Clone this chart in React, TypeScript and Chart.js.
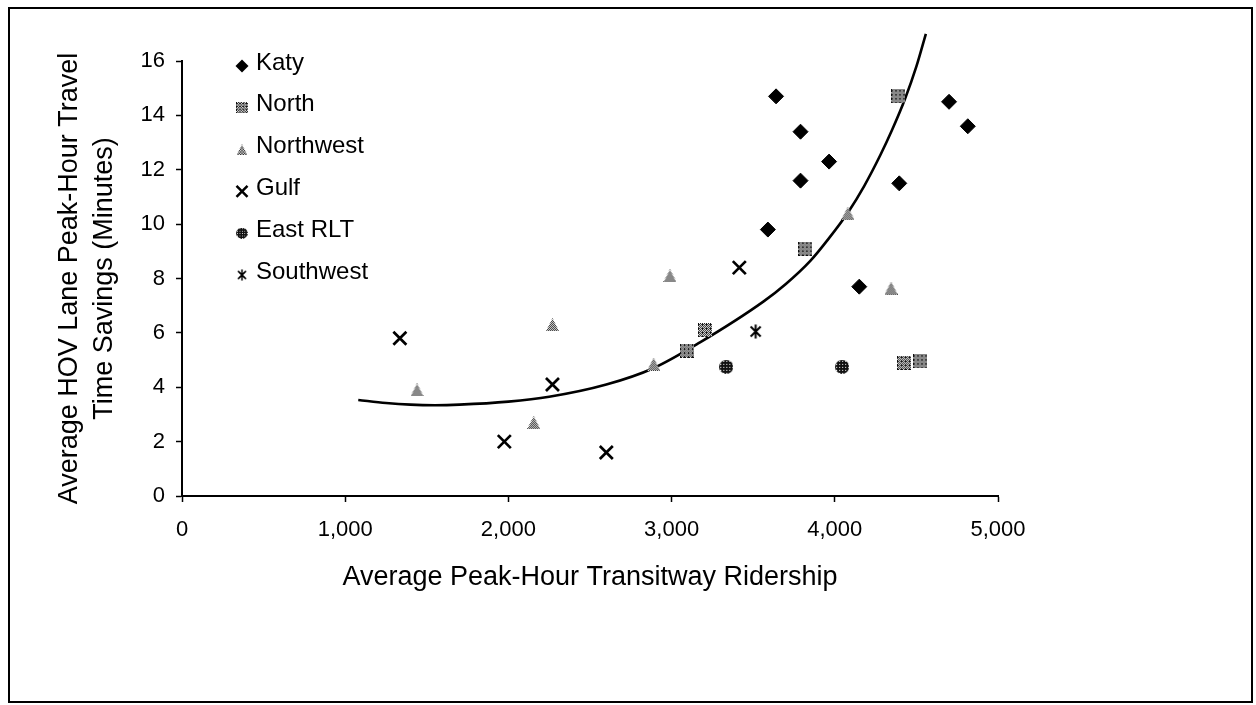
import React, { useEffect, useRef } from 'react';
import { Chart, registerables } from 'chart.js';

Chart.register(...registerables);

// ---- data ----
const seriesNames = ['Katy', 'North', 'Northwest', 'Gulf', 'East RLT', 'Southwest'];

const katyX = [3640, 3790, 3965, 3790, 3590, 4395, 4700, 4815, 4150];
const katyY = [14.7, 13.4, 12.3, 11.6, 9.8, 11.5, 14.5, 13.6, 7.7];

const northX = [4390, 3820, 3205, 3095, 4425, 4525];
const northY = [14.7, 9.1, 6.1, 5.35, 4.9, 4.95];

const northwestX = [4080, 2990, 4345, 2270, 1440, 2155, 2890];
const northwestY = [10.4, 8.1, 7.65, 6.3, 3.9, 2.7, 4.85];

const gulfX = [1335, 1975, 2270, 2600, 3415];
const gulfY = [5.8, 2.0, 4.1, 1.6, 8.4];

const eastX = [3335, 4045];
const eastY = [4.75, 4.75];

const southwestX = [3515];
const southwestY = [6.05];

// trendline
const trendX = [1080, 1250, 1400, 1550, 1700, 2000, 2250, 2600, 2888, 3174, 3562, 3700, 3850, 3960, 4082, 4180, 4280, 4350, 4430, 4500, 4558];
const trendY = [3.53, 3.42, 3.36, 3.34, 3.36, 3.47, 3.65, 4.1, 4.7, 5.65, 7.15, 7.8, 8.65, 9.45, 10.44, 11.4, 12.55, 13.45, 14.6, 15.8, 17.0];

const xTicks = [0, 1000, 2000, 3000, 4000, 5000];
const yTicks = [0, 2, 4, 6, 8, 10, 12, 14, 16];

const xTitle = 'Average Peak-Hour Transitway Ridership';
const yTitle = ['Average HOV Lane Peak-Hour Travel', 'Time Savings (Minutes)'];

const FONT = "'Liberation Sans', Arial, Helvetica, sans-serif";

function zip(xs: number[], ys: number[]) {
  return xs.map((x, i) => ({ x, y: ys[i] }));
}

function patternMarker(shape: 'square' | 'triangle' | 'circle', size: number, dark: (x: number, y: number) => boolean) {
  const c = document.createElement('canvas');
  c.width = size;
  c.height = size;
  const ctx = c.getContext('2d')!;
  ctx.beginPath();
  if (shape === 'square') {
    ctx.rect(0, 0, size, size);
  } else if (shape === 'triangle') {
    ctx.moveTo(size / 2, 0);
    ctx.lineTo(size, size);
    ctx.lineTo(0, size);
    ctx.closePath();
  } else {
    ctx.arc(size / 2, size / 2, size / 2, 0, Math.PI * 2);
  }
  ctx.clip();
  ctx.fillStyle = '#ffffff';
  ctx.fillRect(0, 0, size, size);
  ctx.fillStyle = '#111111';
  for (let y = 0; y < size; y++) {
    for (let x = 0; x < size; x++) {
      if (dark(x, y)) ctx.fillRect(x, y, 1, 1);
    }
  }
  return c;
}

function starMarker(size: number) {
  const c = document.createElement('canvas');
  c.width = size;
  c.height = size;
  const ctx = c.getContext('2d')!;
  ctx.strokeStyle = '#000';
  ctx.lineWidth = 2;
  ctx.lineCap = 'butt';
  const m = size / 2;
  ctx.beginPath();
  ctx.moveTo(2.5, 2.5);
  ctx.lineTo(size - 2.5, size - 2.5);
  ctx.moveTo(size - 2.5, 2.5);
  ctx.lineTo(2.5, size - 2.5);
  ctx.moveTo(m, 0.5);
  ctx.lineTo(m, size - 0.5);
  ctx.stroke();
  return c;
}

function drawLegendMarker(ctx: CanvasRenderingContext2D, style: any, x: number, y: number) {
  ctx.save();
  if (typeof style !== 'string') {
    const w = style.width * 0.8;
    const h = style.height * 0.8;
    ctx.drawImage(style, x - w / 2, y - h / 2, w, h);
  } else if (style === 'rectRot') {
    const r = 6.5;
    ctx.fillStyle = '#000';
    ctx.beginPath();
    ctx.moveTo(x - r, y);
    ctx.lineTo(x, y - r);
    ctx.lineTo(x + r, y);
    ctx.lineTo(x, y + r);
    ctx.closePath();
    ctx.fill();
  } else if (style === 'crossRot') {
    const r = 5.5;
    ctx.strokeStyle = '#000';
    ctx.lineWidth = 2.5;
    ctx.beginPath();
    ctx.moveTo(x - r, y - r);
    ctx.lineTo(x + r, y + r);
    ctx.moveTo(x + r, y - r);
    ctx.lineTo(x - r, y + r);
    ctx.stroke();
  }
  ctx.restore();
}

const LEGEND_MARK_X = 242;
const LEGEND_TEXT_X = 256;
const LEGEND_TOP = 63;
const LEGEND_STEP = 41.8;

const insideLegend = {
  id: 'insideLegend',
  afterDraw(chart: any) {
    const ctx = chart.ctx as CanvasRenderingContext2D;
    const items = chart.data.datasets.filter((d: any) => !d.isTrend);
    ctx.save();
    ctx.font = `24px ${FONT}`;
    ctx.fillStyle = '#000';
    ctx.textBaseline = 'middle';
    ctx.textAlign = 'left';
    items.forEach((ds: any, i: number) => {
      const y = LEGEND_TOP + i * LEGEND_STEP;
      drawLegendMarker(ctx, ds.pointStyle, LEGEND_MARK_X, y + 3);
      ctx.fillText(ds.label, LEGEND_TEXT_X, y);
    });
    ctx.restore();
  },
};

export default function App() {
  const ref = useRef<HTMLCanvasElement>(null);

  useEffect(() => {
    const canvas = ref.current;
    if (!canvas) return;

    const northImg = patternMarker('square', 14, (x, y) => (x + y) % 2 === 0 || (x % 4 === 0 && y % 4 === 1));
    const northwestImg = patternMarker('triangle', 13, (x, y) => (x + y) % 2 === 0);
    const eastImg = patternMarker('circle', 14, (x, y) => !(x % 3 === 1 && y % 3 === 1));
    const starImg = starMarker(15);

    const chart = new Chart(canvas, {
      type: 'scatter',
      data: {
        datasets: [
          {
            label: seriesNames[0],
            data: zip(katyX, katyY),
            pointStyle: 'rectRot',
            pointRadius: 7.5,
            backgroundColor: '#000',
            borderColor: '#000',
            borderWidth: 1,
          },
          {
            label: seriesNames[1],
            data: zip(northX, northY),
            pointStyle: northImg,
            pointRadius: 7,
          },
          {
            label: seriesNames[2],
            data: zip(northwestX, northwestY),
            pointStyle: northwestImg,
            pointRadius: 7,
          },
          {
            label: seriesNames[3],
            data: zip(gulfX, gulfY),
            pointStyle: 'crossRot',
            pointRadius: 9.2,
            borderColor: '#000',
            backgroundColor: '#000',
            borderWidth: 2.7,
          },
          {
            label: seriesNames[4],
            data: zip(eastX, eastY),
            pointStyle: eastImg,
            pointRadius: 7,
          },
          {
            label: seriesNames[5],
            data: zip(southwestX, southwestY),
            pointStyle: starImg,
            pointRadius: 7,
          },
          {
            type: 'line',
            isTrend: true,
            label: 'Trend',
            data: zip(trendX, trendY),
            showLine: true,
            borderColor: '#000',
            borderWidth: 2.6,
            pointRadius: 0,
            cubicInterpolationMode: 'monotone',
            fill: false,
            clip: false,
          } as any,
        ],
      },
      options: {
        responsive: false,
        animation: false,
        devicePixelRatio: 1,
        layout: { padding: { left: 38, top: 61, right: 258, bottom: 111 } },
        plugins: {
          legend: { display: false },
          tooltip: { enabled: false },
        },
        scales: {
          x: {
            type: 'linear',
            min: 0,
            max: 5000,
            afterBuildTicks: (s: any) => {
              s.ticks = xTicks.map((v) => ({ value: v }));
            },
            afterFit: (s: any) => {
              s.height = 98;
            },
            ticks: {
              color: '#000',
              font: { family: FONT, size: 22 },
              padding: 15,
              maxRotation: 0,
              autoSkip: false,
              callback: (v: any) => Number(v).toLocaleString('en-US'),
            },
            grid: {
              drawOnChartArea: false,
              drawTicks: true,
              tickLength: 6,
              tickColor: '#000',
              tickWidth: 1.5,
            },
            border: { display: true, color: '#000', width: 2 },
            title: {
              display: true,
              text: xTitle,
              color: '#000',
              font: { family: FONT, size: 27 },
              padding: { top: 0, bottom: 0 },
            },
          },
          y: {
            type: 'linear',
            min: 0,
            max: 16,
            afterBuildTicks: (s: any) => {
              s.ticks = yTicks.map((v) => ({ value: v }));
            },
            afterFit: (s: any) => {
              s.width = 144;
            },
            ticks: {
              color: '#000',
              font: { family: FONT, size: 22 },
              padding: 11,
              autoSkip: false,
            },
            grid: {
              drawOnChartArea: false,
              drawTicks: true,
              tickLength: 6,
              tickColor: '#000',
              tickWidth: 1.5,
            },
            border: { display: true, color: '#000', width: 2 },
            title: {
              display: true,
              text: yTitle,
              color: '#000',
              font: { family: FONT, size: 27, lineHeight: 1.3 },
              padding: { top: 14, bottom: 0 },
            },
          },
        },
      },
      plugins: [insideLegend],
    } as any);

    return () => chart.destroy();
  }, []);

  return (
    <div style={{ position: 'absolute', left: 0, top: 0, width: 1256, height: 705, background: '#fff' }}>
      <canvas
        ref={ref}
        width={1256}
        height={705}
        style={{ position: 'absolute', left: 0, top: 0, width: 1256, height: 705 }}
      />
      <div
        style={{
          position: 'absolute',
          left: 8,
          top: 7,
          width: 1245,
          height: 696,
          border: '2px solid #000',
          boxSizing: 'border-box',
          pointerEvents: 'none',
        }}
      />
    </div>
  );
}
